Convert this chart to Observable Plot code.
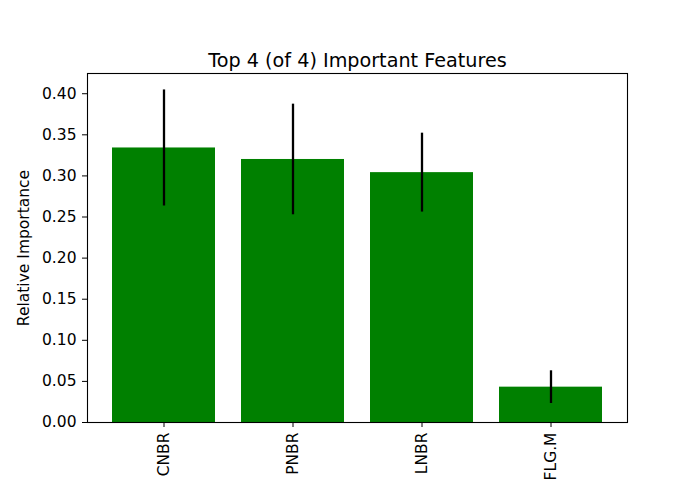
<!DOCTYPE html>
<html>
<head>
<meta charset="utf-8">
<script src="https://cdn.jsdelivr.net/npm/d3@7"></script>
<script src="https://cdn.jsdelivr.net/npm/@observablehq/plot@0.6"></script>
<style>
  html, body { margin: 0; padding: 0; background: white; }
  #chart svg { display: block; }
</style>
</head>
<body>
<div id="chart"></div>
<script>
const features = ["CNBR", "PNBR", "LNBR", "FLG.M"];
const importances = [0.334, 0.320, 0.304, 0.043];
const stds = [0.0706, 0.0673, 0.048, 0.0199];
const yTicks = [0, 0.05, 0.10, 0.15, 0.20, 0.25, 0.30, 0.35, 0.40];
const titleText = "Top 4 (of 4) Important Features";
const yLabel = "Relative Importance";

const data = features.map((f, i) => ({feature: f, importance: importances[i], std: stds[i]}));

const chart = Plot.plot({
  width: 695,
  height: 494,
  marginLeft: 87,
  marginRight: 68,
  marginTop: 73,
  marginBottom: 72,
  style: {fontFamily: "DejaVu Sans", fontSize: "15.5px", color: "#000", background: "white"},
  x: {type: "band", domain: features, paddingInner: 0.2, paddingOuter: 0.19},
  y: {domain: [0, 0.4246]},
  marks: [
    Plot.barY(data, {x: "feature", y: "importance", fill: "#008000"}),
    Plot.ruleX(data, {x: "feature", y1: d => d.importance - d.std, y2: d => d.importance + d.std, stroke: "#000", strokeWidth: 2.3}),
    Plot.frame({stroke: "#000", strokeWidth: 1.1}),
    Plot.axisY({ticks: yTicks, tickFormat: d3.format(".2f"), tickSize: 5, tickPadding: 6, label: yLabel, labelAnchor: "center", labelArrow: "none", labelOffset: 70, fontSize: 15.5}),
    Plot.axisX({tickRotate: -90, tickSize: 5, tickPadding: 5, label: null, fontSize: 15.5}),
    Plot.text([titleText], {frameAnchor: "top", text: d => d, lineAnchor: "bottom", dy: -7, fontSize: 19.2})
  ]
});
document.getElementById("chart").appendChild(chart);
</script>
</body>
</html>
